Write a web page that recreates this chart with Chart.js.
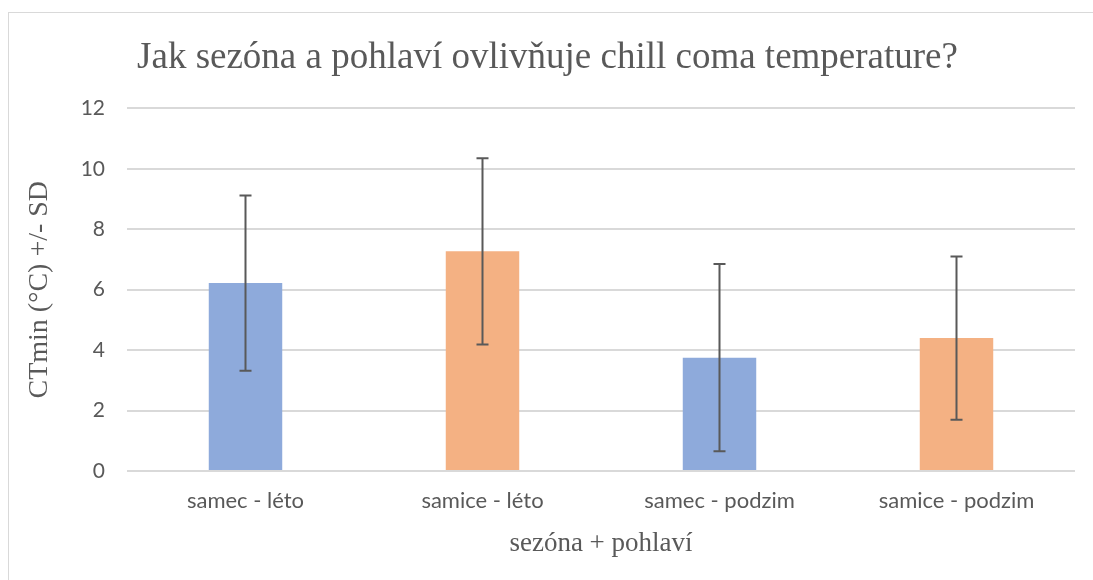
<!DOCTYPE html>
<html>
<head>
<meta charset="utf-8">
<script src="https://cdn.jsdelivr.net/npm/chart.js@4"></script>
<style>
    body { margin: 0; background: #fff; overflow: hidden; }
    #wrap { position: relative; width: 1093px; height: 580px; }
    #frame { position: absolute; left: 8px; top: 12px; width: 1200px; height: 700px; border: 1px solid #d9d9d9; }
    canvas { position: absolute; left: 0; top: 0; }
</style>
</head>
<body>
<div id="wrap">
    <div id="frame"></div>
    <canvas id="chart" width="1093" height="580"></canvas>
</div>
<script>
const categories = ["samec - léto", "samice - léto", "samec - podzim", "samice - podzim"];
const means = [6.22, 7.27, 3.75, 4.40];
const sds = [2.90, 3.08, 3.10, 2.70];
const barColors = ["#8eaadb", "#f4b183", "#8eaadb", "#f4b183"];
const yTicks = [0, 2, 4, 6, 8, 10, 12];

// Error bars (mean +/- SD) drawn through the y scale
const errorBars = {
    id: "errorBars",
    afterDatasetsDraw(chart) {
        const ctx = chart.ctx;
        const yScale = chart.scales.y;
        const meta = chart.getDatasetMeta(0);
        ctx.save();
        ctx.strokeStyle = "#595959";
        ctx.lineWidth = 2;
        meta.data.forEach((bar, i) => {
            const x = bar.x;
            const top = yScale.getPixelForValue(means[i] + sds[i]);
            const bottom = yScale.getPixelForValue(means[i] - sds[i]);
            ctx.beginPath();
            ctx.moveTo(x, top);
            ctx.lineTo(x, bottom);
            ctx.moveTo(x - 6, top);
            ctx.lineTo(x + 6, top);
            ctx.moveTo(x - 6, bottom);
            ctx.lineTo(x + 6, bottom);
            ctx.stroke();
        });
        ctx.restore();
    }
};

new Chart(document.getElementById("chart"), {
    type: "bar",
    data: {
        labels: categories,
        datasets: [{
            data: means,
            backgroundColor: barColors,
            categoryPercentage: 1,
            barPercentage: 0.31
        }]
    },
    options: {
        responsive: false,
        animation: false,
        layout: { padding: { left: 20, right: 18, top: 0, bottom: 20 } },
        plugins: {
            legend: { display: false },
            tooltip: { enabled: false },
            title: {
                display: true,
                text: "Jak sezóna a pohlaví ovlivňuje chill coma temperature?",
                color: "#595959",
                font: { family: "Liberation Serif", size: 37, weight: "normal" },
                padding: { top: 36, bottom: 28 }
            }
        },
        scales: {
            x: {
                grid: { display: false },
                border: { display: false },
                ticks: { color: "#595959", font: { family: "Lato", size: 22 }, padding: 9 },
                title: {
                    display: true,
                    text: "sezóna + pohlaví",
                    color: "#595959",
                    font: { family: "Liberation Serif", size: 27 },
                    padding: { top: 8, bottom: 0 }
                },
                afterFit(scale) { scale.height = 580 - 471 - 20; }
            },
            y: {
                min: 0,
                max: 12,
                afterBuildTicks(scale) { scale.ticks = yTicks.map(v => ({ value: v })); },
                grid: { color: "#d9d9d9", lineWidth: 2, drawTicks: false },
                border: { display: false },
                ticks: { color: "#595959", font: { family: "Lato", size: 21 }, padding: 22 },
                title: {
                    display: true,
                    text: "CTmin (°C) +/- SD",
                    color: "#595959",
                    font: { family: "Liberation Serif", size: 28 },
                    padding: { top: 3, bottom: 0 }
                },
                afterFit(scale) { scale.width = 107; }
            }
        }
    },
    plugins: [errorBars]
});
</script>
</body>
</html>
